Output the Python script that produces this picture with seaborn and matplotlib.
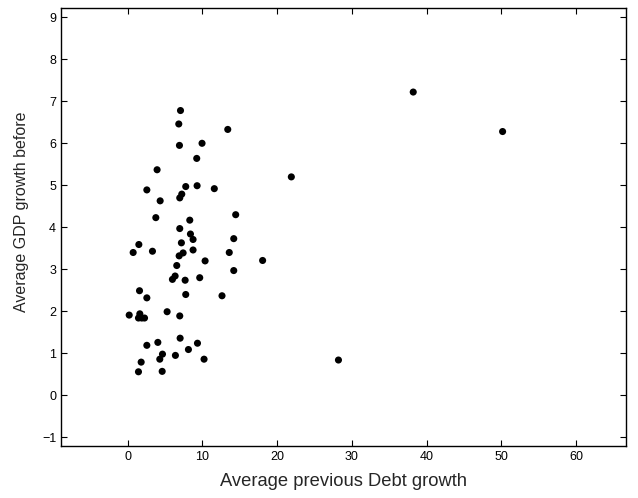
import matplotlib
matplotlib.use('Agg')
import matplotlib.pyplot as plt
import numpy as np
import pandas as pd
import seaborn as sns

# average previous debt growth (x) and average GDP growth before (y)
debt_growth = [7.08, 6.85, 13.4, 6.94, 9.96, 9.25, 3.95, 2.58, 7.78, 9.3, 11.6,
               7.25, 6.98, 4.36, 14.46, 3.78, 8.32, 6.98, 8.41, 8.76, 14.2, 1.51,
               7.2, 0.75, 3.33, 8.76, 7.43, 6.9, 13.6, 10.37, 6.58, 14.2, 6.36,
               6.0, 7.7, 9.65, 1.6, 7.78, 12.63, 2.58, 0.22, 1.64, 1.46, 2.27,
               1.9, 5.29, 6.98, 7.03, 4.05, 9.35, 2.58, 8.14, 4.67, 6.4, 4.31,
               10.23, 1.82, 1.46, 4.63, 38.2, 50.15, 21.9, 18.06, 28.2]
gdp_growth = [6.78, 6.46, 6.33, 5.95, 6.0, 5.64, 5.37, 4.89, 4.97, 4.99, 4.92,
              4.79, 4.70, 4.63, 4.30, 4.23, 4.17, 3.97, 3.84, 3.71, 3.73, 3.59,
              3.63, 3.40, 3.43, 3.46, 3.39, 3.32, 3.40, 3.20, 3.09, 2.97, 2.84,
              2.76, 2.74, 2.80, 2.49, 2.40, 2.37, 2.32, 1.91, 1.94, 1.84, 1.84,
              1.84, 1.99, 1.89, 1.36, 1.26, 1.24, 1.19, 1.09, 0.98, 0.95, 0.86,
              0.86, 0.79, 0.56, 0.57, 7.22, 6.28, 5.20, 3.21, 0.84]

df = pd.DataFrame({'debt': debt_growth, 'gdp': gdp_growth})

sns.set_style('ticks')
plt.rcParams['font.family'] = ['Liberation Sans', 'DejaVu Sans']

fig = plt.figure(figsize=(6.38, 4.98), dpi=100)
ax = fig.add_axes([0.0956, 0.105, 0.885, 0.878])

sns.scatterplot(data=df, x='debt', y='gdp', ax=ax, color='black', s=26,
                edgecolor='none', linewidth=0)

ax.set_xlim(-8.9, 66.6)
ax.set_ylim(-1.2, 9.21)
ax.set_xticks([0, 10, 20, 30, 40, 50, 60])
ax.set_yticks(range(-1, 10))
ax.set_yticklabels(['\u22121'] + [str(i) for i in range(0, 10)])
ax.tick_params(direction='in', top=True, right=True, labelsize=9, length=4,
               width=0.8, colors='black')
for s in ax.spines.values():
    s.set_visible(True)
    s.set_linewidth(1.0)
    s.set_color('black')

ax.set_xlabel('Average previous Debt growth', fontsize=13.2)
ax.set_ylabel('Average GDP growth before', fontsize=11.5)
ax.xaxis.set_label_coords(0.5, -0.062)
ax.yaxis.set_label_coords(-0.057, 0.534)

fig.savefig('out.png', dpi=100)
